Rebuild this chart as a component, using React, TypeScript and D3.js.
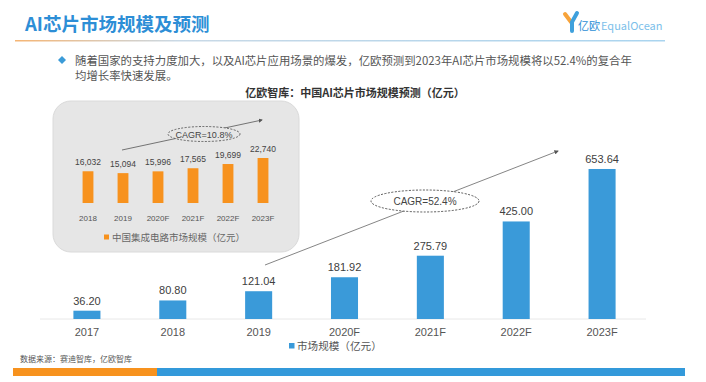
import React from "react";
import * as d3 from "d3";

const mainCategories = ["2017", "2018", "2019", "2020F", "2021F", "2022F", "2023F"];
const mainValues = [36.2, 80.8, 121.04, 181.92, 275.79, 425.0, 653.64];
const insetCategories = ["2018", "2019", "2020F", "2021F", "2022F", "2023F"];
const insetValues = [16032, 15094, 15996, 17565, 19699, 22740];
const mainLegend = "市场规模（亿元）";
const insetLegend = "中国集成电路市场规模（亿元）";
const mainCagr = "CAGR=52.4%";
const insetCagr = "CAGR=10.8%";

const LAT = "'Liberation Sans', Arial, 'Noto Sans CJK SC', sans-serif";
const CJK = "'Noto Sans CJK SC', 'Liberation Sans', sans-serif";
const BLUE = "#3A9AD9";
const ORANGE = "#F7921E";

export default function App() {
  const x = d3.scaleBand<string>().domain(mainCategories).range([44, 645]).paddingInner(0.685).paddingOuter(0.3425);
  const y = d3.scaleLinear().domain([0, 700]).range([319, 319 - 700 * 0.2295]);
  const xi = d3.scaleBand<string>().domain(insetCategories).range([70.5, 280.5]).paddingInner(0.69).paddingOuter(0.345);
  const yi = d3.scaleLinear().domain([0, 25000]).range([203, 203 - 25000 * (45 / 22740)]);
  const fmt2 = d3.format(".2f");
  const fmtc = d3.format(",");

  return (
    <svg width={706} height={382} style={{ position: "absolute", left: 0, top: 0, background: "#fff" }}>
      <defs>
        <linearGradient id="sep" x1="0" x2="1" y1="0" y2="0">
          <stop offset="0" stopColor="#F5B574" />
          <stop offset="0.25" stopColor="#C9D9E6" />
          <stop offset="1" stopColor="#A9D4EF" />
        </linearGradient>
        <marker id="arr" viewBox="0 0 10 10" refX="8" refY="5" markerWidth="5" markerHeight="5" orient="auto">
          <path d="M0,0 L10,5 L0,10 z" fill="#555" />
        </marker>
      </defs>
      <rect x={0} y={0} width={706} height={382} fill="#fff" />
      {/* Header */}
      <text x={25} y={31} fontFamily={CJK} fontWeight={700} fontSize={18.5} fill="#2D8ED6">AI芯片市场规模及预测</text>
      <rect x={15} y={40} width={650} height={1.5} fill="url(#sep)" />
      {/* Logo */}
      <path d="M565,14 L571,22" stroke="#F7A33A" strokeWidth={4} strokeLinecap="round" />
      <path d="M577,13 L572,22 L572,31" stroke="#3FA0DC" strokeWidth={4} fill="none" strokeLinecap="round" />
      <text x={578} y={30} fontFamily={CJK} fontSize={11} fill="#2D8ED6">亿欧</text>
      <text x={601} y={30} fontFamily={CJK} fontSize={11} fill="#7CC0EA">EqualOcean</text>
      {/* Bullet */}
      <path d="M62,56 L66,60 L62,64 L58,60 z" fill="#3B9BD8" />
      <text x={75} y={65} fontFamily={CJK} fontSize={11.4} fill="#555">随着国家的支持力度加大，以及AI芯片应用场景的爆发，亿欧预测到2023年AI芯片市场规模将以52.4%的复合年</text>
      <text x={75} y={80} fontFamily={CJK} fontSize={11.4} fill="#555">均增长率快速发展。</text>
      <text x={355} y={97} textAnchor="middle" fontFamily={CJK} fontWeight={700} fontSize={11} fill="#333">亿欧智库：中国AI芯片市场规模预测（亿元）</text>

      {/* Inset */}
      <rect x={53} y={101} width={246} height={151} rx={18} ry={18} fill="#E6E6E6" stroke="#DADADA" strokeWidth={1} />
      {insetCategories.map((c, i) => (
        <g key={c}>
          <rect x={xi(c)} y={yi(insetValues[i])} width={xi.bandwidth()} height={yi(0) - yi(insetValues[i])} fill={ORANGE} />
          <text x={xi(c)! + xi.bandwidth() / 2} y={yi(insetValues[i]) - 6} textAnchor="middle" fontFamily={LAT} fontSize={8.5} fill="#444">{fmtc(insetValues[i])}</text>
          <text x={xi(c)! + xi.bandwidth() / 2} y={221} textAnchor="middle" fontFamily={LAT} fontSize={8} fill="#555">{c}</text>
        </g>
      ))}
      <line x1={122} y1={150} x2={262} y2={120} stroke="#555" strokeWidth={0.8} markerEnd="url(#arr)" />
      <ellipse cx={204} cy={134} rx={36} ry={7.5} fill="#E6E6E6" stroke="#444" strokeWidth={0.8} strokeDasharray="2,1.5" />
      <text x={204} y={137.5} textAnchor="middle" fontFamily={LAT} fontSize={9} fill="#444">{insetCagr}</text>
      <rect x={104} y={234.5} width={5} height={5} fill={ORANGE} />
      <text x={112} y={241} fontFamily={CJK} fontSize={9.5} fill="#666">{insetLegend}</text>

      {/* Main chart */}
      <line x1={40} y1={319} x2={646} y2={319} stroke="#E8E8E8" strokeWidth={1} />
      <line x1={265} y1={265} x2={558} y2={151} stroke="#777" strokeWidth={0.9} markerEnd="url(#arr)" />
      <ellipse cx={425} cy={201} rx={54} ry={11} fill="#fff" stroke="#444" strokeWidth={0.9} strokeDasharray="2,1.5" />
      <text x={425} y={205} textAnchor="middle" fontFamily={LAT} fontSize={10} fill="#444">{mainCagr}</text>
      {mainCategories.map((c, i) => (
        <g key={c}>
          <rect x={x(c)} y={y(mainValues[i])} width={x.bandwidth()} height={y(0) - y(mainValues[i])} fill={BLUE} />
          <text x={x(c)! + x.bandwidth() / 2} y={y(mainValues[i]) - 6} textAnchor="middle" fontFamily={LAT} fontSize={11} fill="#404040">{fmt2(mainValues[i])}</text>
          <text x={x(c)! + x.bandwidth() / 2} y={336} textAnchor="middle" fontFamily={LAT} fontSize={11} fill="#555">{c}</text>
        </g>
      ))}
      <rect x={289} y={343} width={5.5} height={5.5} fill={BLUE} />
      <text x={297} y={350} fontFamily={CJK} fontSize={10.6} fill="#555">{mainLegend}</text>

      {/* Footer */}
      <text x={20} y={362} fontFamily={CJK} fontSize={8} fill="#555">数据来源：赛迪智库，亿欧智库</text>
      <rect x={13} y={368} width={144} height={8} fill={ORANGE} />
      <rect x={157} y={368} width={528} height={8} fill="#3399DA" />
    </svg>
  );
}
